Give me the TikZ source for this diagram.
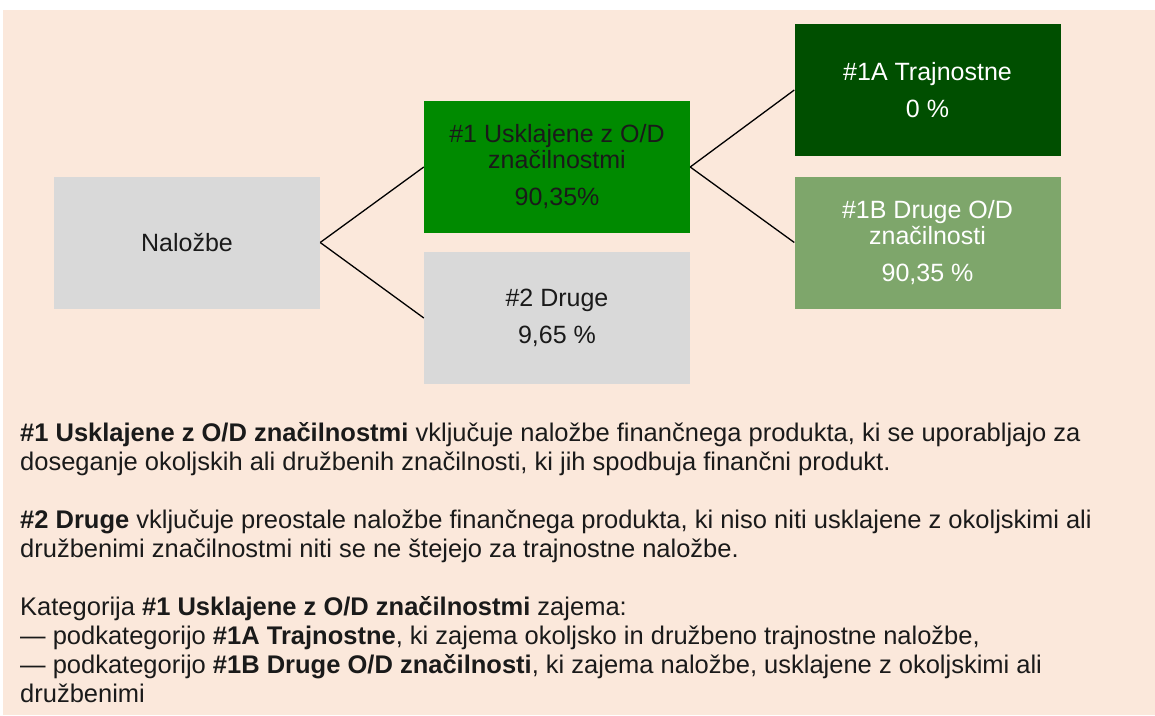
\documentclass[tikz,border=0pt]{standalone}
\usepackage{fontspec}
\setmainfont{Liberation Sans}
\definecolor{peach}{HTML}{FBE8DB}
\definecolor{boxgrey}{HTML}{D9D9D9}
\definecolor{midgreen}{HTML}{008A00}
\definecolor{darkgreen}{HTML}{004F00}
\definecolor{palegreen}{HTML}{7EA66B}
\definecolor{ink}{HTML}{1A1A1A}
\tikzset{
	box/.style={minimum width=266pt,minimum height=132pt,inner sep=0pt,
		align=center,font=\fontsize{25}{26}\selectfont,text=ink},
	link/.style={line width=1.3pt,black}
}
\begin{document}
\begin{tikzpicture}[x=1pt,y=-1pt]
	\fill[white] (0,0) rectangle (1155,715);
	\fill[peach] (3,10) rectangle (1155,715);
	\node[box,fill=boxgrey] (nal) at (187,242.5) {Naložbe};
	\node[box,fill=midgreen] (uskl) at (557,167)
	{\#1 Usklajene z O/D\\značilnostmi\\[11pt]90,35\%};
	\node[box,fill=boxgrey] (druge) at (557,318)
	{\#2 Druge\\[11pt]9,65 \%};
	\node[box,fill=darkgreen,text=white] (traj) at (927.5,90)
	{\#1A Trajnostne\\[11pt]0 \%};
	\node[box,fill=palegreen,text=white] (drod) at (927.5,242.5)
	{\#1B Druge O/D\\značilnosti\\[11pt]90,35 \%};
	\foreach \a/\b in {nal/uskl,nal/druge,uskl/traj,uskl/drod}
	\draw[link] (\a.east)--(\b.west);
	\node[anchor=north west,inner sep=0pt,align=left,text=ink,
	font=\fontsize{25.5}{29}\selectfont] (opis) at (20,422)
	{\textbf{\#1 Usklajene z O/D značilnostmi} vključuje naložbe finančnega produkta, ki se uporabljajo za\\
		doseganje okoljskih ali družbenih značilnosti, ki jih spodbuja finančni produkt.\\[29pt]
		\textbf{\#2 Druge} vključuje preostale naložbe finančnega produkta, ki niso niti usklajene z okoljskimi ali\\
		družbenimi značilnostmi niti se ne štejejo za trajnostne naložbe.\\[29pt]
		Kategorija \textbf{\#1 Usklajene z O/D značilnostmi} zajema:\\
		— podkategorijo \textbf{\#1A Trajnostne}, ki zajema okoljsko in družbeno trajnostne naložbe,\\
		— podkategorijo \textbf{\#1B Druge O/D značilnosti}, ki zajema naložbe, usklajene z okoljskimi ali\\
		družbenimi};
\end{tikzpicture}
\end{document}
